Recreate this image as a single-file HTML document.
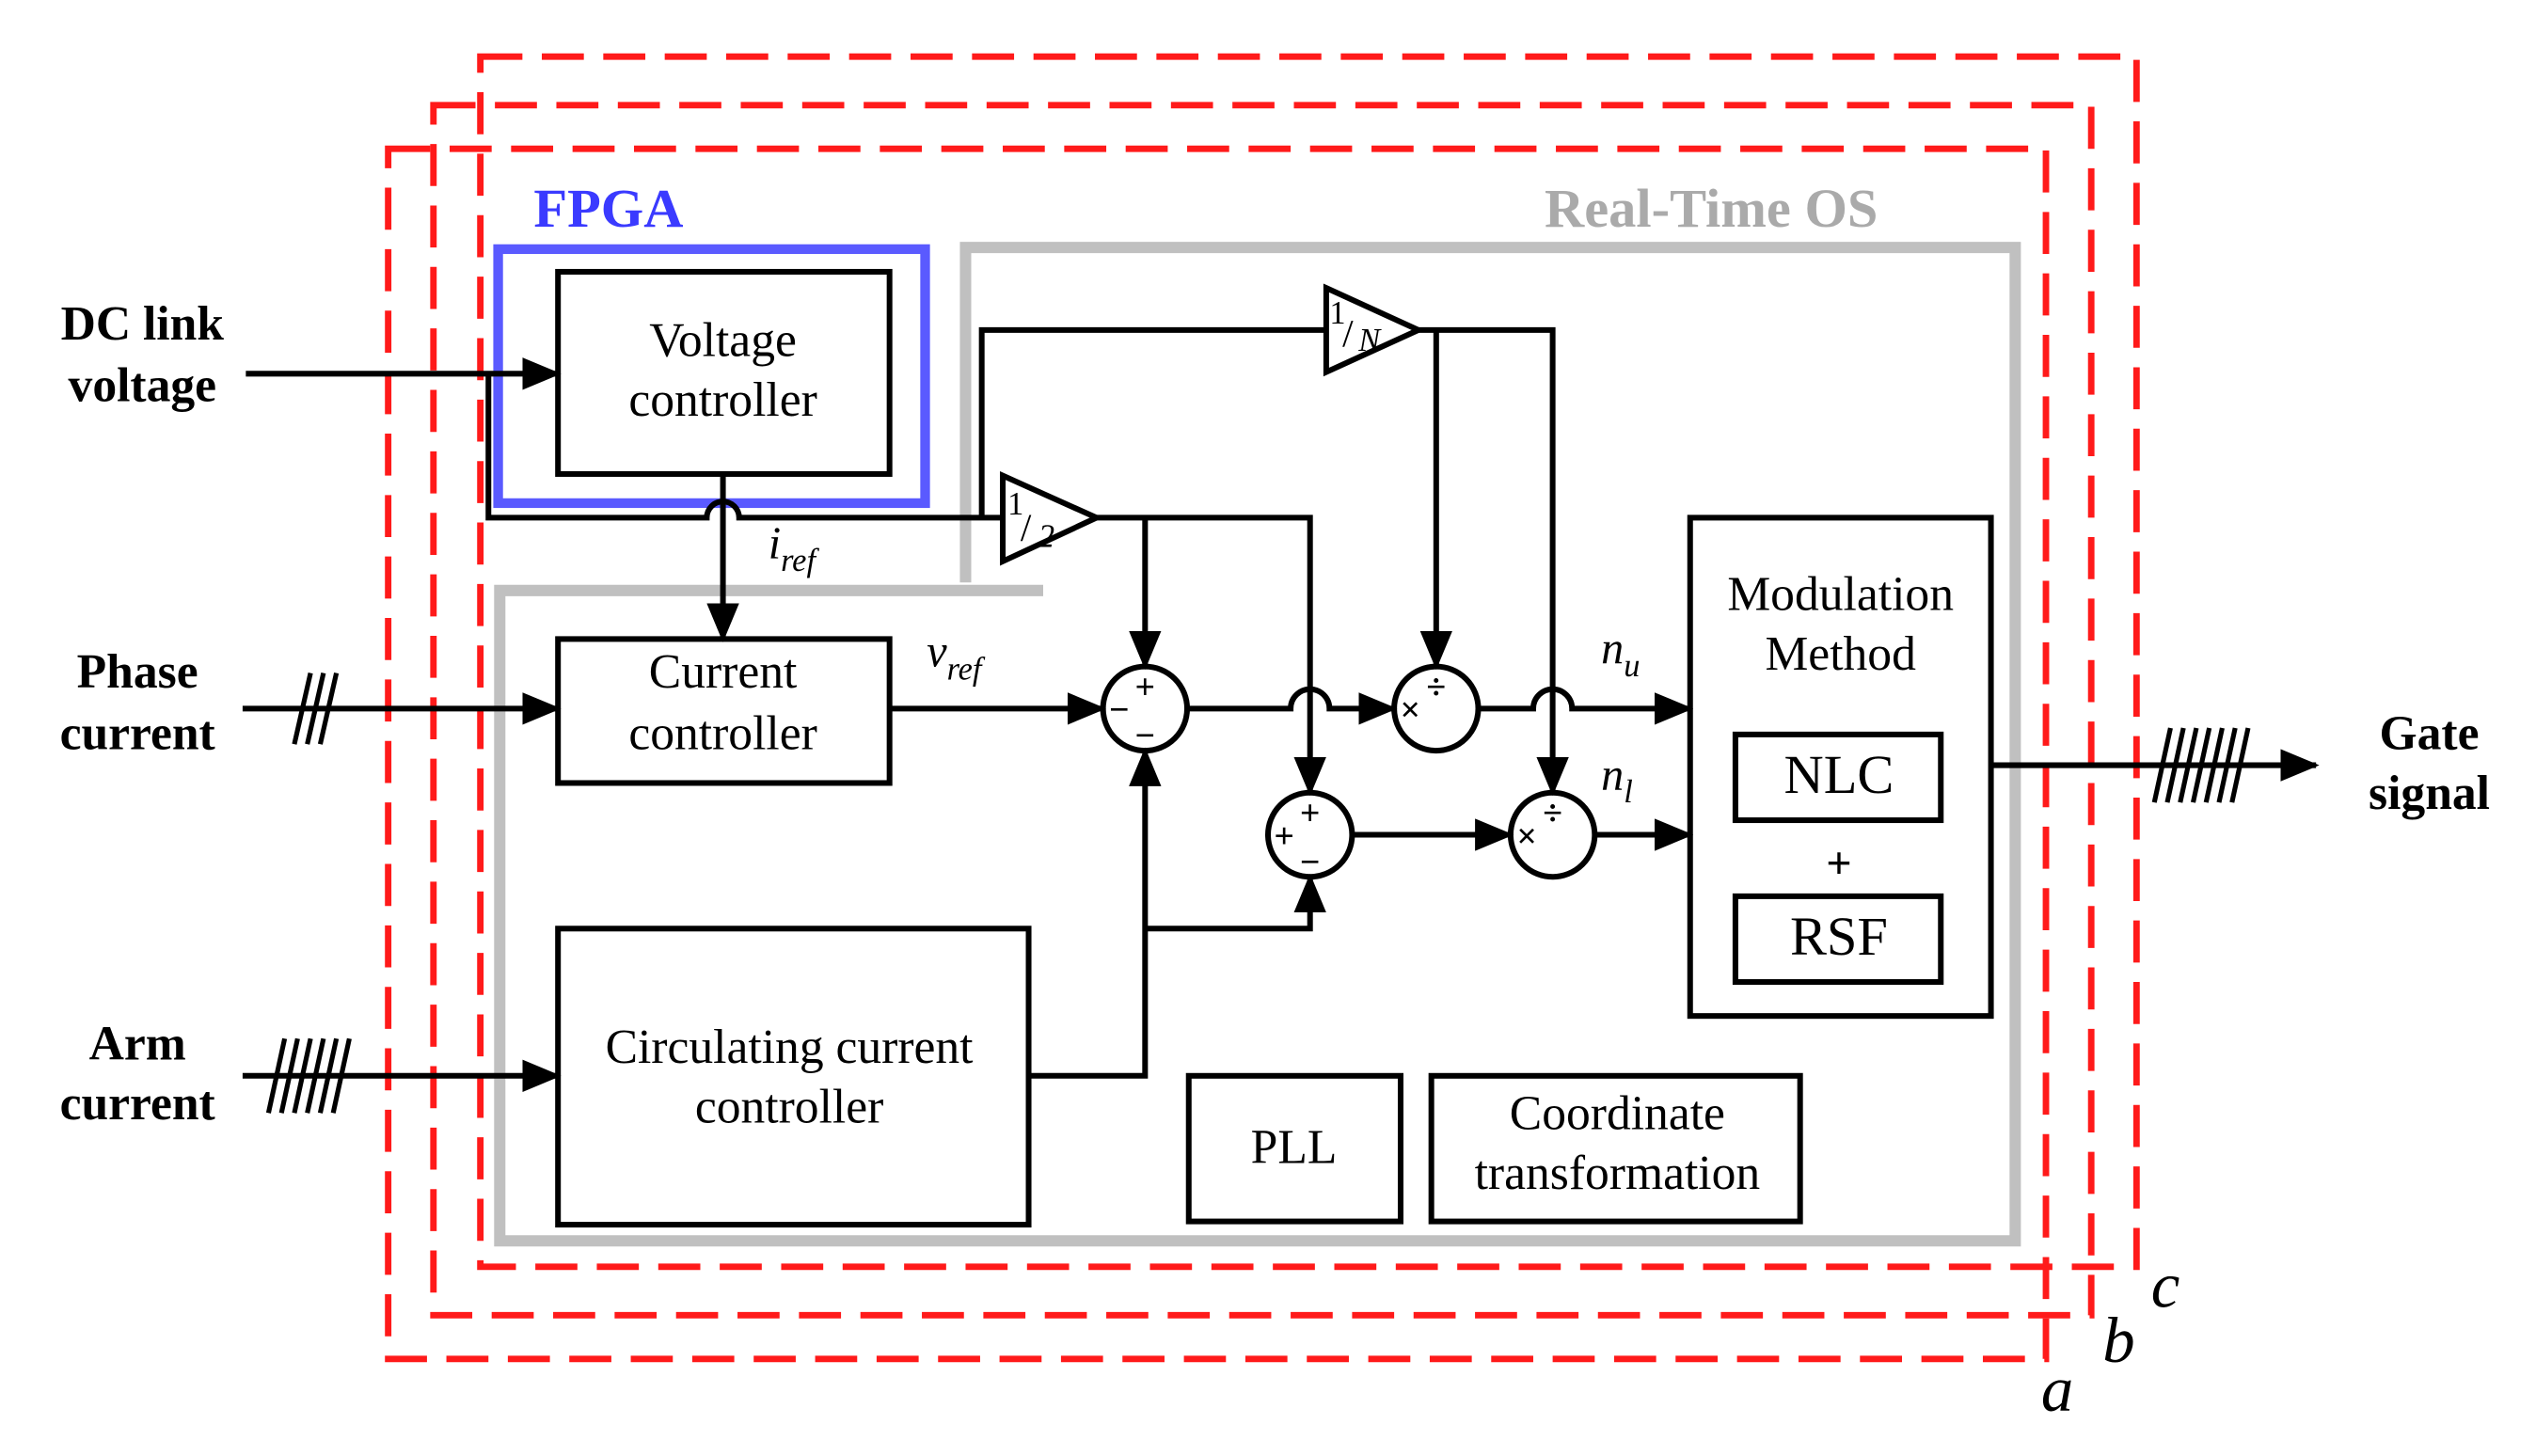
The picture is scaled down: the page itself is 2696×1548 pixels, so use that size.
<!DOCTYPE html>
<html><head><meta charset="utf-8"><style>
html,body{margin:0;padding:0;background:#fff;}
svg{display:block;}
text{font-family:"Liberation Serif",serif;}
</style></head><body>
<svg width="2696" height="1548" viewBox="0 0 1568 900" preserveAspectRatio="none" xmlns="http://www.w3.org/2000/svg">
<defs>
<marker id="ar" markerWidth="24" markerHeight="20" refX="22" refY="10" orient="auto" markerUnits="userSpaceOnUse" viewBox="0 0 24 20">
<path d="M0,0 L24,10 L0,20 z" fill="#000"/></marker>
</defs>
<rect width="1568" height="900" fill="#fff"/>
<g fill="none" stroke="#ff1a1a" stroke-width="4" stroke-dasharray="26,12">
<rect x="240" y="92" width="1025" height="748"/>
<rect x="268" y="65" width="1025" height="748"/>
<rect x="297" y="35" width="1024" height="748"/>
</g>
<text x="1262" y="872" font-size="40" font-style="italic">a</text>
<text x="1300" y="842" font-size="40" font-style="italic">b</text>
<text x="1330" y="808" font-size="40" font-style="italic">c</text>
<path d="M597,360 L597,153 L1246,153 L1246,767 L309,767 L309,365 L645,365" fill="none" stroke="#c0c0c0" stroke-width="7"/>
<text x="955" y="140" font-size="34" font-weight="bold" fill="#aaaaaa">Real-Time OS</text>
<rect x="308" y="154" width="264" height="157" fill="none" stroke="#5a5aff" stroke-width="6"/>
<text x="330" y="140" font-size="34" font-weight="bold" fill="#3a3aff">FPGA</text>
<g fill="none" stroke="#000" stroke-width="3.5">
<rect x="345" y="168" width="205" height="125"/>
<rect x="345" y="395" width="205" height="89"/>
<rect x="345" y="574" width="291" height="183"/>
<rect x="735" y="665" width="131" height="90"/>
<rect x="885" y="665" width="228" height="90"/>
<rect x="1045" y="320" width="186" height="308"/>
<rect x="1073" y="454" width="127" height="53"/>
<rect x="1073" y="554" width="127" height="53"/>
</g>
<g font-size="30" text-anchor="middle">
<text x="447" y="220">Voltage</text><text x="447" y="257">controller</text>
<text x="447" y="425">Current</text><text x="447" y="463">controller</text>
<text x="488" y="657">Circulating current</text><text x="488" y="694">controller</text>
<text x="800" y="719">PLL</text>
<text x="1000" y="698">Coordinate</text><text x="1000" y="735">transformation</text>
<text x="1138" y="377">Modulation</text><text x="1138" y="414">Method</text>
<text x="1137" y="490" font-size="34">NLC</text>
<text x="1137" y="590" font-size="34">RSF</text>
<text x="1137" y="543" font-size="28" font-family="Liberation Sans" font-weight="bold">+</text>
</g>
<g font-size="30" font-weight="bold" text-anchor="middle">
<text x="88" y="210">DC link</text><text x="88" y="248">voltage</text>
<text x="85" y="425">Phase</text><text x="85" y="463">current</text>
<text x="85" y="655">Arm</text><text x="85" y="692">current</text>
<text x="1502" y="463">Gate</text><text x="1502" y="500">signal</text>
</g>
<g fill="none" stroke="#000" stroke-width="3.5">
<path d="M152,231 L345,231" marker-end="url(#ar)"/>
<path d="M302,231 L302,320 L437,320 A10,10 0 0 1 457,320 L620,320"/>
<path d="M447,293 L447,395" marker-end="url(#ar)"/>
<path d="M607,320 L607,204 L820,204"/>
<polygon points="620,294 678,320 620,347"/>
<polygon points="820,178 877,204 820,230"/>
<path d="M678,320 L810,320 L810,490" marker-end="url(#ar)"/>
<path d="M708,320 L708,412" marker-end="url(#ar)"/>
<path d="M877,204 L960,204 L960,490" marker-end="url(#ar)"/>
<path d="M888,204 L888,412" marker-end="url(#ar)"/>
<path d="M550,438 L682,438" marker-end="url(#ar)"/>
<path d="M734,438 L798,438 A12,12 0 0 1 822,438 L862,438" marker-end="url(#ar)"/>
<path d="M914,438 L948,438 A12,12 0 0 1 972,438 L1045,438" marker-end="url(#ar)"/>
<path d="M836,516 L934,516" marker-end="url(#ar)"/>
<path d="M986,516 L1045,516" marker-end="url(#ar)"/>
<path d="M636,665 L708,665 L708,464" marker-end="url(#ar)"/>
<path d="M708,574 L810,574 L810,542" marker-end="url(#ar)"/>
<path d="M150,438 L345,438" marker-end="url(#ar)"/>
<path d="M150,665 L345,665" marker-end="url(#ar)"/>
<path d="M1231,473 L1432,473" marker-end="url(#ar)"/>
<circle cx="708" cy="438" r="26"/>
<circle cx="810" cy="516" r="26"/>
<circle cx="888" cy="438" r="26"/>
<circle cx="960" cy="516" r="26"/>
</g>
<g stroke="#000" stroke-width="3">
<path d="M182,460 L192,416 M190,460 L200,416 M198,460 L208,416"/>
<path d="M166,688 L176,642 M174,688 L184,642 M182,688 L192,642 M190,688 L200,642 M198,688 L208,642 M206,688 L216,642"/>
<path d="M1332,496 L1342,450 M1340,496 L1350,450 M1348,496 L1358,450 M1356,496 L1366,450 M1364,496 L1374,450 M1372,496 L1382,450 M1380,496 L1390,450"/>
</g>
<g font-size="22" font-family="Liberation Sans" text-anchor="middle" font-weight="bold">
<text x="708" y="432">+</text><text x="692" y="446">−</text><text x="708" y="462">−</text>
<text x="810" y="510">+</text><text x="794" y="524">+</text><text x="810" y="540">−</text>
<text x="888" y="432">÷</text><text x="872" y="446">×</text>
<text x="960" y="510">÷</text><text x="944" y="524">×</text>
</g>
<g font-size="20">
<text x="623" y="318">1</text><text x="631" y="334" font-size="24">/</text><text x="642" y="338" font-style="italic">2</text>
<text x="822" y="200">1</text><text x="830" y="214" font-size="24">/</text><text x="840" y="217" font-style="italic">N</text>
</g>
<g font-style="italic" font-size="28">
<text x="475" y="345">i<tspan font-size="20" dy="8">ref</tspan></text>
<text x="573" y="412">v<tspan font-size="20" dy="8">ref</tspan></text>
<text x="990" y="410">n<tspan font-size="20" dy="8">u</tspan></text>
<text x="990" y="488">n<tspan font-size="20" dy="8">l</tspan></text>
</g>
</svg>
</body></html>
